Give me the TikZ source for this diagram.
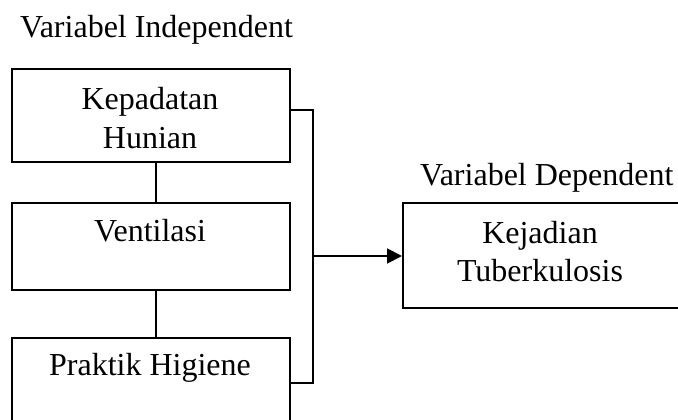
\documentclass[tikz,border=0pt]{standalone}
\usepackage{fontspec}
\setmainfont{Liberation Serif}
\usetikzlibrary{arrows.meta}
\begin{document}
\begin{tikzpicture}[x=1pt,y=-1pt,
  box/.style={draw=black, line width=1.9pt, rectangle, inner sep=0pt, anchor=north west},
  lbl/.style={inner sep=0pt, align=center, font={\fontsize{32}{38}\selectfont}},
  conn/.style={draw=black, line width=1.9pt},
  arr/.style={conn, -{Triangle[length=15pt,width=15pt]}}]
\useasboundingbox (0,0) rectangle (678,420);
% titles
\node[lbl, anchor=base west] (ti) at (20,38) {Variabel Independent};
\node[lbl, anchor=base west] (td) at (420,185) {Variabel Dependent};
% boxes
\node[box, minimum width=278pt, minimum height=93pt] (b1) at (11,68) {};
\node[box, minimum width=278pt, minimum height=87pt] (b2) at (11,202) {};
\node[box, minimum width=278pt, minimum height=110pt] (b3) at (11,337) {};
\node[box, minimum width=320pt, minimum height=105pt] (b4) at (402,202) {};
% texts
\node[lbl, anchor=base] (t1a) at (150,110) {Kepadatan};
\node[lbl, anchor=base] (t1b) at (150,148) {Hunian};
\node[lbl, anchor=base] (t2) at (150,241) {Ventilasi};
\node[lbl, anchor=base] (t3) at (150,375) {Praktik Higiene};
\node[lbl, anchor=base] (t4a) at (540,243) {Kejadian};
\node[lbl, anchor=base] (t4b) at (540,281) {Tuberkulosis};
% connectors
\coordinate (k1) at (313,110);
\coordinate (k3) at (313,383);
\coordinate (km) at (313,256);
\draw[conn] ([xshift=5pt]b1.south) -- ([xshift=5pt]b2.north);
\draw[conn] ([xshift=5pt]b2.south) -- ([xshift=5pt]b3.north);
\draw[conn] (b1.east |- k1) -- (k1) -- (k3) -- (b3.east |- k3);
\draw[arr] (km) -- (b4.west |- km);
\end{tikzpicture}
\end{document}
